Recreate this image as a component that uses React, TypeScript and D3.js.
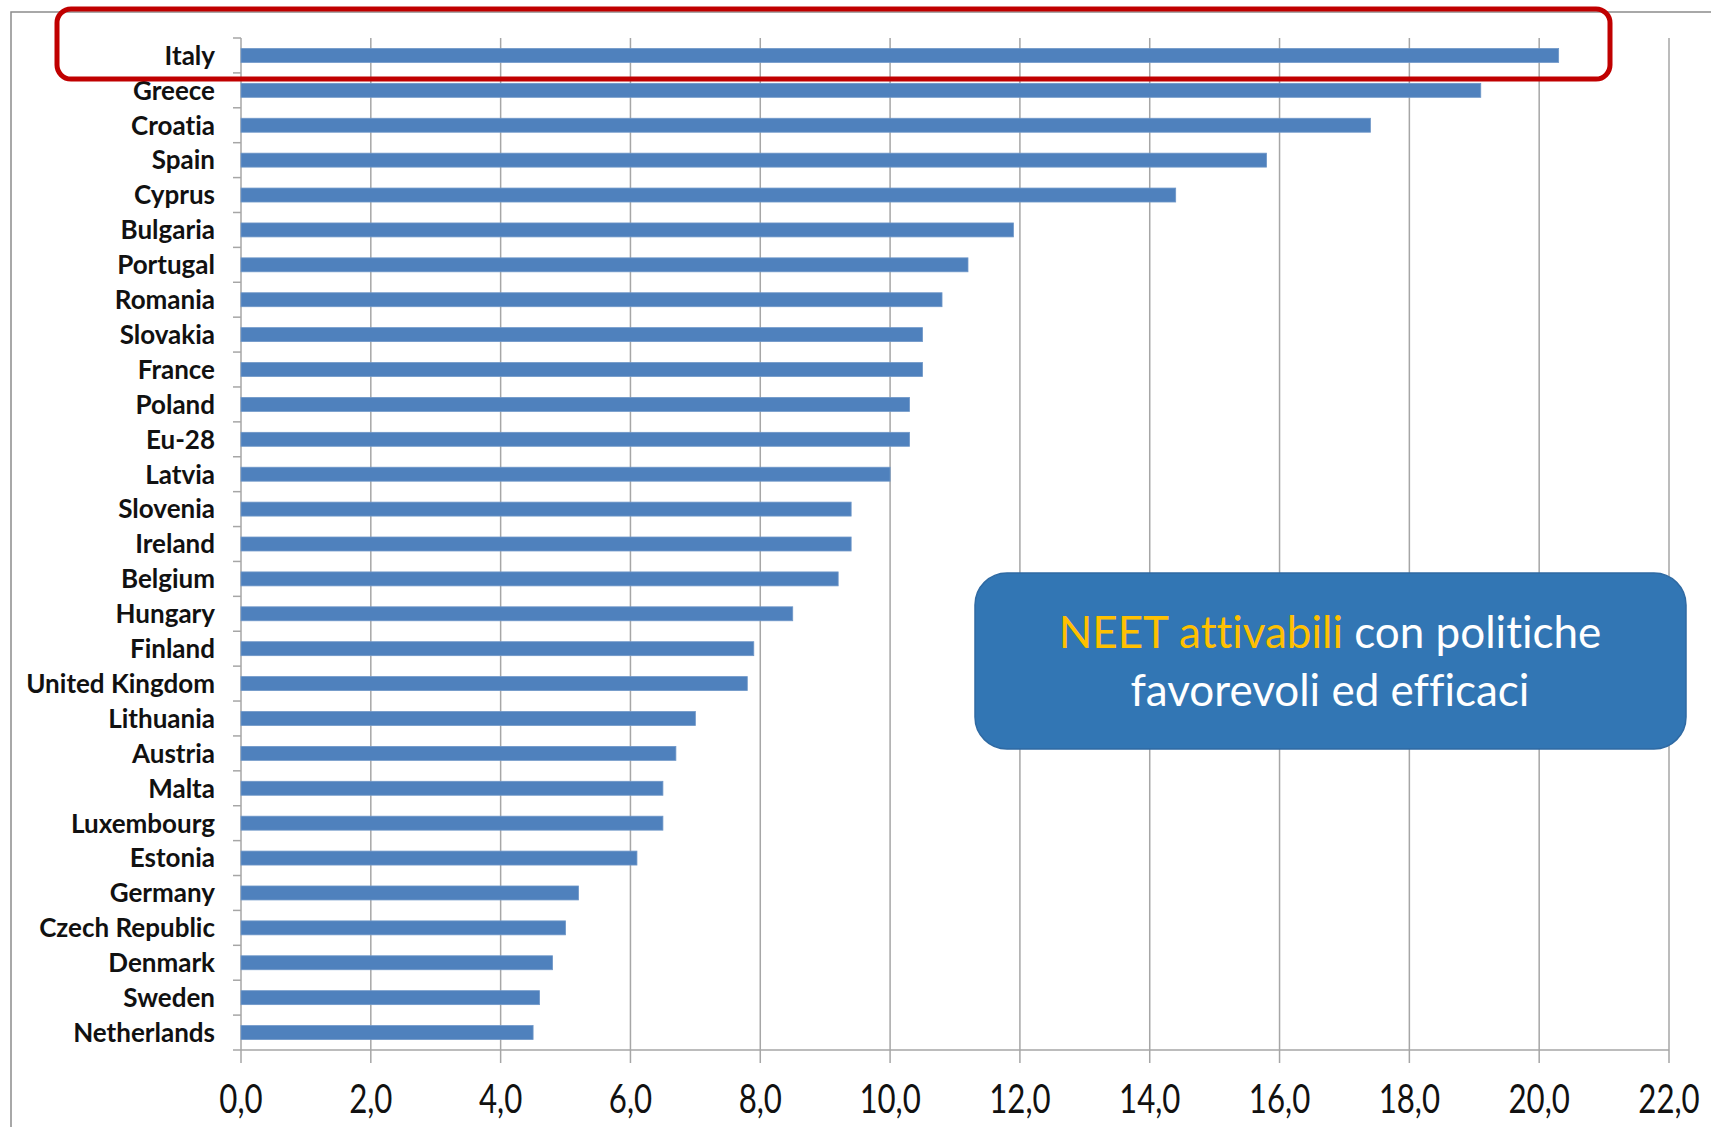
import React, { useEffect } from "react";
import * as d3 from "d3";

const countries = [
  "Italy", "Greece", "Croatia", "Spain", "Cyprus", "Bulgaria", "Portugal", "Romania",
  "Slovakia", "France", "Poland", "Eu-28", "Latvia", "Slovenia", "Ireland", "Belgium",
  "Hungary", "Finland", "United Kingdom", "Lithuania", "Austria", "Malta", "Luxembourg",
  "Estonia", "Germany", "Czech Republic", "Denmark", "Sweden", "Netherlands",
];
const values = [
  20.3, 19.1, 17.4, 15.8, 14.4, 11.9, 11.2, 10.8,
  10.5, 10.5, 10.3, 10.3, 10.0, 9.4, 9.4, 9.2,
  8.5, 7.9, 7.8, 7.0, 6.7, 6.5, 6.5,
  6.1, 5.2, 5.0, 4.8, 4.6, 4.5,
];
const xTicks = [0, 2, 4, 6, 8, 10, 12, 14, 16, 18, 20, 22];
const calloutHighlight = "NEET attivabili";
const calloutRest = " con politiche";
const calloutLine2 = "favorevoli ed efficaci";

const W = 1711;
const H = 1127;
const M = { left: 241, right: 1669, top: 38, bottom: 1050 };

export default function App() {
  useEffect(() => {
    document.body.style.margin = "0";
  }, []);

  const x = d3.scaleLinear().domain([0, 22]).range([M.left, M.right]);
  const y = d3.scaleBand<string>().domain(countries).range([M.top, M.bottom]).paddingInner(0.6).paddingOuter(0.3);
  const yb = d3.scaleBand<string>().domain(countries).range([M.top, M.bottom]);
  const fmt = (v: number) => d3.format(".1f")(v).replace(".", ",");
  const grid = "#a6a6a6";
  const noLig = { fontVariantLigatures: "none" as const };

  return (
    <svg width={W} height={H} style={{ display: "block" }} xmlns="http://www.w3.org/2000/svg">
      <rect x={0} y={0} width={W} height={H} fill="#fff" />
      {/* outer chart frame */}
      <rect x={11} y={12} width={W + 20} height={H + 20} fill="none" stroke="#8c8c8c" strokeWidth={1.5} />
      {/* vertical gridlines + ticks */}
      {xTicks.map((t) => (
        <line key={"g" + t} x1={x(t)} x2={x(t)} y1={M.top} y2={M.bottom + 13} stroke={grid} strokeWidth={1.5} />
      ))}
      {/* bottom axis line */}
      <line x1={M.left - 8} x2={M.right} y1={M.bottom} y2={M.bottom} stroke={grid} strokeWidth={1.5} />
      {/* y tick marks at band edges */}
      {countries.map((c) => (
        <line key={"yt" + c} x1={M.left - 8} x2={M.left} y1={yb(c)!} y2={yb(c)!} stroke={grid} strokeWidth={1.5} />
      ))}
      {/* bars */}
      {countries.map((c, i) => (
        <rect key={"b" + c} x={x(0)} y={y(c)!} width={x(values[i]) - x(0)} height={y.bandwidth()} fill="#4f81bd" stroke="#6f97c8" strokeWidth={0.8} />
      ))}
      {/* country labels */}
      {countries.map((c) => (
        <text key={"l" + c} x={215} y={yb(c)! + yb.bandwidth() / 2} dy="0.36em" textAnchor="end"
          fontFamily="Lato, 'Open Sans', sans-serif" fontWeight={700} fontSize={26} fill="#111" style={noLig}>
          {c}
        </text>
      ))}
      {/* x tick labels */}
      {xTicks.map((t) => (
        <text key={"xl" + t} transform={`translate(${x(t)},${1113}) scale(0.78,1)`} textAnchor="middle"
          fontFamily="Lato, 'Open Sans', sans-serif" fontSize={40} fill="#111">
          {fmt(t)}
        </text>
      ))}
      {/* highlight box around Italy */}
      <rect x={57} y={9} width={1553} height={70} rx={14} ry={14} fill="none" stroke="#c00000" strokeWidth={5} />
      {/* callout box */}
      <rect x={975} y={573} width={711} height={176} rx={32} ry={32} fill="#3276b4" stroke="#2f6aa3" strokeWidth={1.5} />
      <text x={1330} y={648} textAnchor="middle" fontFamily="Lato, 'Open Sans', sans-serif" fontSize={44} fill="#fff" style={noLig}>
        <tspan fill="#ffc000">{calloutHighlight}</tspan>
        <tspan>{calloutRest}</tspan>
      </text>
      <text x={1330} y={706} textAnchor="middle" fontFamily="Lato, 'Open Sans', sans-serif" fontSize={44} fill="#fff" style={noLig}>
        {calloutLine2}
      </text>
    </svg>
  );
}
